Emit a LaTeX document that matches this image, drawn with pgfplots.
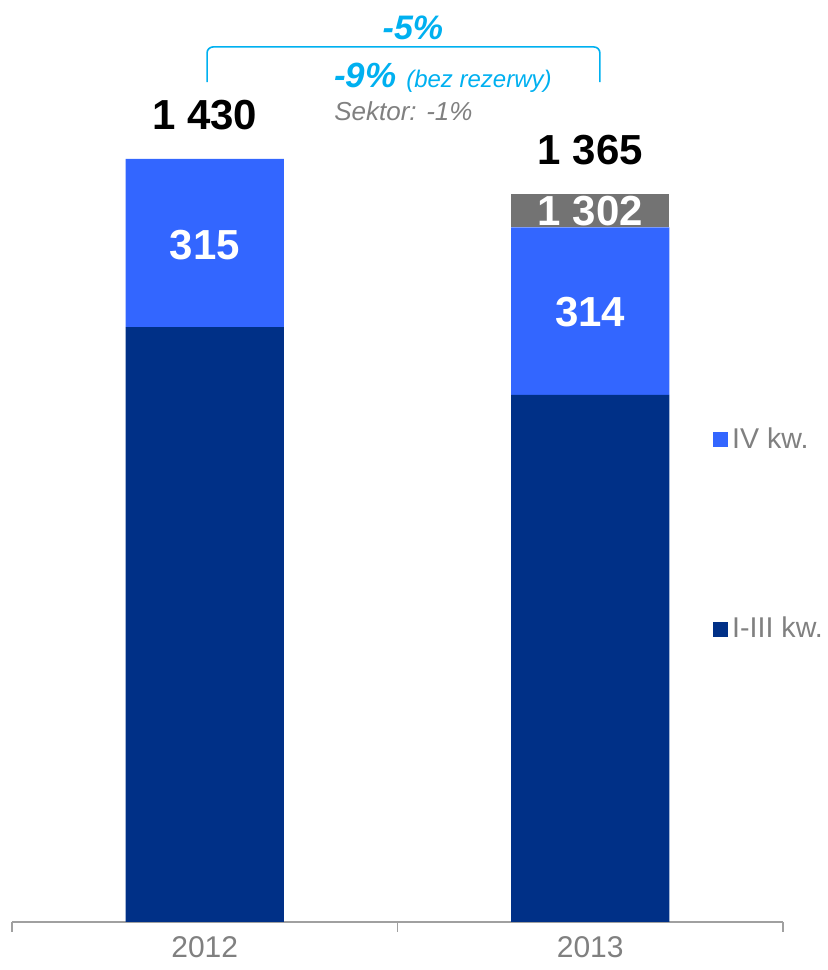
\documentclass[border=0pt]{standalone}
\usepackage{pgfplots}
\pgfplotsset{compat=1.18}
\usepackage{fontspec}
\setmainfont{Liberation Sans}
\definecolor{navy}{RGB}{0,48,135}
\definecolor{lblue}{RGB}{51,102,255}
\definecolor{dgrey}{RGB}{115,115,115}
\definecolor{cyantxt}{RGB}{0,176,240}
\definecolor{txtgrey}{RGB}{128,128,128}
\definecolor{axgrey}{RGB}{160,160,160}
\begin{document}
\begin{tikzpicture}
\useasboundingbox (0,0) rectangle (414pt,485pt);
\begin{axis}[
    at={(6pt,24pt)}, anchor=south west,
    scale only axis,
    width=385.5pt, height=461pt,
    ybar stacked,
    bar width=0.41,
    xmin=-0.5, xmax=1.5,
    ymin=0, ymax=1728,
    axis y line=none,
    axis x line*=bottom,
    x axis line style={axgrey, line width=0.8pt, -},
    xtick={-0.5,0.5,1.5},
    xticklabels={},
    major tick length=5pt,
    tick align=outside,
    tick style={axgrey, line width=0.8pt},
    extra x ticks={0,1},
    extra x tick labels={2012,2013},
    extra x tick style={major tick length=0pt},
    xticklabel style={font=\fontsize{15}{17}\selectfont, text=txtgrey, yshift=-6pt, inner sep=1pt},
    clip=false,
    legend style={at={(axis cs:1.318,935)}, anchor=north west, draw=none, fill=none,
        inner sep=0pt, row sep=79pt,
        font=\fontsize{14.3}{17}\selectfont, text=txtgrey,
        /tikz/every even column/.append style={column sep=3.5pt}},
    legend cell align=left,
    reverse legend,
    legend image code/.code={\fill[#1] (0pt,-3.75pt) rectangle (7.5pt,3.75pt);},
]
\addplot+[draw=none, fill=navy] coordinates {(0,1115) (1,988)};
\addlegendentry{I-III kw.}
\addplot+[draw=none, fill=lblue] coordinates {(0,315) (1,314)};
\addlegendentry{IV kw.}
\addplot+[draw=none, fill=dgrey, forget plot] coordinates {(0,0) (1,63)};

\coordinate (t12) at (axis cs:0,1512);
\coordinate (t13) at (axis cs:1,1447);
\coordinate (q12) at (axis cs:0,1269);
\coordinate (q13) at (axis cs:1,1143);
\coordinate (r13) at (axis cs:1,1332);
\coordinate (p5) at (axis cs:0.54,1675);
\coordinate (bl) at (axis cs:0.006,1574);
\coordinate (bt) at (axis cs:0.006,1640);
\coordinate (br) at (axis cs:1.025,1640);
\coordinate (be) at (axis cs:1.025,1574);
\coordinate (p9) at (axis cs:0.335,1582);
\coordinate (sk) at (axis cs:0.335,1520);
\end{axis}
\node[font=\fontsize{21}{25}\selectfont\bfseries] at (t12) {1 430};
\node[font=\fontsize{21}{25}\selectfont\bfseries] at (t13) {1 365};
\node[font=\fontsize{21}{25}\selectfont\bfseries, text=white] at (q12) {315};
\node[font=\fontsize{21}{25}\selectfont\bfseries, text=white] at (q13) {314};
\node[font=\fontsize{21}{25}\selectfont\bfseries, text=white] at (r13) {1 302};
\node[font=\fontsize{17}{20}\selectfont\bfseries\itshape, text=cyantxt] at (p5) {-5\%};
\draw[cyantxt, line width=0.8pt, rounded corners=3pt] (bl) -- (bt) -- (br) -- (be);
\node[anchor=west, inner sep=0pt, text=cyantxt] at (p9)
    {\fontsize{17.5}{20}\selectfont\bfseries\itshape -9\%\ \fontsize{12}{14}\selectfont\mdseries(bez rezerwy)};
\node[anchor=west, inner sep=0pt, text=txtgrey, font=\fontsize{13}{16}\selectfont\itshape] at (sk) {Sektor: -1\%};
\end{tikzpicture}
\end{document}
